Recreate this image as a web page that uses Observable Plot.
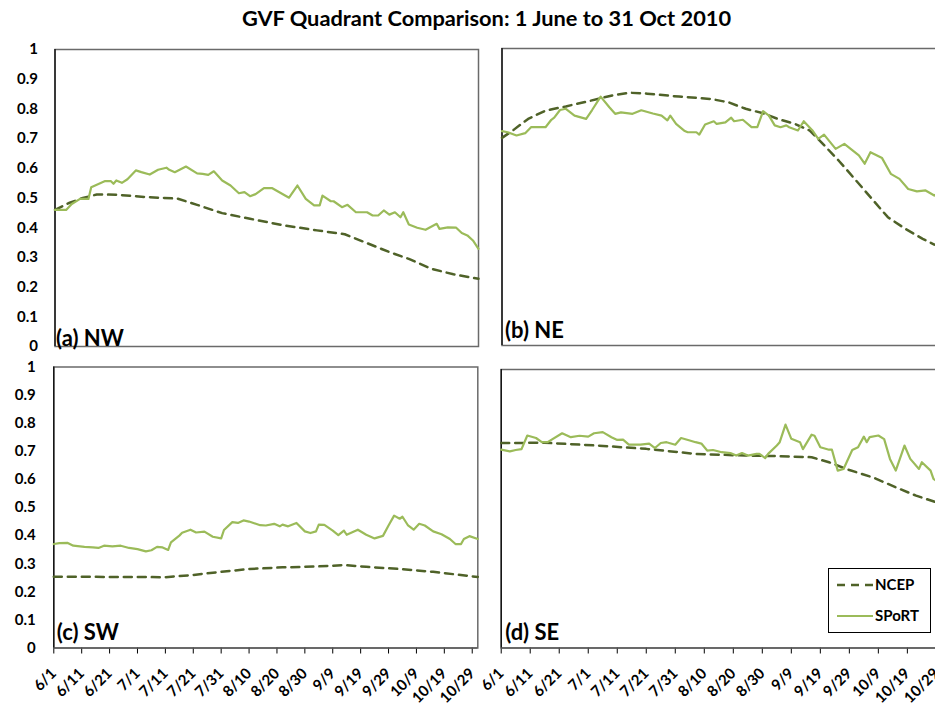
<!DOCTYPE html>
<html><head><meta charset="utf-8">
<script src="https://cdn.jsdelivr.net/npm/d3@7"></script>
<script src="https://cdn.jsdelivr.net/npm/@observablehq/plot@0.6"></script>
<style>
html,body{margin:0;padding:0;background:#fff;overflow:hidden;}
#wrap{position:relative;width:935px;height:706px;overflow:hidden;font-family:Lato,"Open Sans",sans-serif;}
.panel{position:absolute;}
#title{position:absolute;left:0;top:4px;width:973px;text-align:center;font-weight:bold;font-size:21.8px;color:#000;}
</style></head><body><div id="wrap"><div id="title">GVF Quadrant Comparison: 1 June to 31 Oct 2010</div></div>
<script>
// ---- data (day index from 1 June 2010, value = GVF fraction) ----
const xTickDays = [0,10,20,30,40,50,60,70,80,90,100,110,120,130,140,150];
const xTickLabels = ["6/1","6/11","6/21","7/1","7/11","7/21","7/31","8/10","8/20","8/30","9/9","9/19","9/29","10/9","10/19","10/29"];
const yTicks = [0,0.1,0.2,0.3,0.4,0.5,0.6,0.7,0.8,0.9,1];
const yTickLabels = ["0","0.1","0.2","0.3","0.4","0.5","0.6","0.7","0.8","0.9","1"];
const seriesNames = ["NCEP","SPoRT"];
const panelLabels = ["(a) NW","(b) NE","(c) SW","(d) SE"];

const nwSport = [[0,.460],[4,.460],[6,.480],[9,.497],[12,.497],[13,.536],[18,.557],[20,.557],[21,.548],[22,.559],[24,.551],[26,.563],[29,.593],[31,.587],[34,.579],[37,.595],[40,.602],[41,.595],[43,.587],[47,.606],[51,.583],[53,.581],[55,.578],[57,.590],[60,.559],[63,.542],[66,.516],[68,.520],[70,.506],[72,.513],[75,.533],[78,.533],[81,.517],[84,.501],[87,.542],[90,.497],[93,.475],[95,.475],[96,.508],[99,.489],[100,.489],[103,.469],[105,.477],[108,.452],[112,.452],[114,.441],[116,.441],[118,.458],[120,.444],[122,.452],[124,.435],[125,.452],[127,.411],[130,.400],[133,.393],[137,.413],[138,.396],[141,.401],[144,.400],[146,.382],[148,.374],[150,.357],[152,.329]];
const nwNcep = [[0,.460],[5,.483],[10,.500],[15,.512],[22,.511],[33,.503],[44,.498],[51,.477],[60,.449],[70,.430],[82,.408],[94,.391],[104,.378],[112,.348],[120,.318],[127,.295],[135,.262],[143,.243],[152,.228]];

const neSport = [[0,.722],[2,.718],[5,.707],[8,.715],[10,.735],[15,.735],[17,.760],[18,.767],[20,.793],[22,.797],[25,.774],[29,.763],[31,.792],[34,.838],[37,.802],[39,.780],[41,.785],[45,.780],[48,.792],[52,.781],[55,.774],[57,.758],[58,.774],[60,.746],[63,.722],[64,.718],[67,.718],[68,.710],[70,.744],[73,.755],[74,.746],[77,.751],[79,.767],[80,.755],[83,.760],[86,.735],[88,.735],[90,.789],[92,.774],[94,.741],[96,.735],[98,.741],[99,.735],[102,.724],[104,.755],[107,.724],[109,.696],[111,.710],[115,.662],[118,.679],[123,.640],[125,.612],[127,.651],[131,.631],[134,.578],[137,.561],[140,.527],[143,.519],[146,.522],[149,.505],[150,.511],[152,.510]];
const neNcep = [[0,.699],[4,.726],[9,.763],[15,.791],[22,.805],[30,.823],[38,.842],[44,.851],[50,.848],[61,.838],[72,.830],[78,.819],[84,.797],[90,.782],[95,.763],[101,.746],[106,.724],[110,.685],[116,.623],[122,.556],[128,.488],[133,.432],[139,.393],[145,.359],[149,.340],[152,.330]];

const swSport = [[0,.370],[2,.373],[5,.374],[7,.364],[11,.360],[14,.358],[16,.356],[18,.364],[21,.362],[24,.364],[27,.356],[30,.352],[33,.344],[35,.348],[37,.360],[39,.358],[41,.349],[42,.376],[45,.400],[46,.410],[49,.421],[51,.411],[54,.414],[57,.396],[60,.390],[61,.420],[64,.448],[66,.445],[68,.454],[70,.450],[74,.437],[76,.436],[79,.442],[81,.433],[82,.439],[84,.433],[87,.445],[90,.415],[92,.409],[94,.415],[95,.439],[97,.438],[100,.418],[102,.402],[104,.418],[105,.403],[109,.421],[112,.403],[115,.390],[118,.399],[120,.436],[122,.471],[124,.460],[125,.467],[127,.436],[129,.421],[131,.442],[133,.436],[136,.415],[139,.405],[142,.388],[144,.370],[146,.370],[147,.388],[149,.398],[152,.388]];
const swNcep = [[0,.254],[40,.252],[50,.260],[60,.271],[70,.281],[82,.287],[94,.290],[104,.295],[112,.289],[124,.281],[136,.271],[150,.255],[152,.253]];

const seSport = [[0,.712],[3,.706],[5,.711],[7,.714],[9,.763],[12,.754],[14,.739],[16,.739],[21,.771],[24,.757],[27,.762],[30,.759],[32,.771],[35,.775],[38,.757],[40,.747],[42,.748],[44,.730],[48,.730],[51,.734],[53,.718],[55,.736],[57,.739],[60,.730],[62,.754],[65,.745],[67,.739],[69,.734],[71,.709],[73,.711],[76,.703],[79,.700],[81,.691],[83,.700],[85,.691],[88,.697],[89,.697],[91,.682],[92,.697],[95,.727],[96,.739],[98,.802],[100,.751],[103,.739],[104,.714],[107,.766],[108,.762],[110,.721],[113,.712],[114,.712],[116,.637],[118,.643],[121,.711],[123,.721],[125,.759],[126,.739],[127,.757],[130,.763],[132,.750],[134,.679],[136,.637],[139,.727],[141,.679],[144,.643],[145,.667],[148,.637],[149,.607],[150,.600],[152,.590]];
const seNcep = [[0,.736],[15,.737],[33,.727],[50,.715],[67,.697],[84,.691],[96,.689],[107,.685],[113,.667],[120,.639],[128,.613],[136,.577],[143,.547],[150,.523],[152,.516]];

const NCEP_COLOR = "#4F6228";
const SPORT_COLOR = "#9BBB59";

const wrap = document.getElementById("wrap");

function panel(o) {
  const toRows = arr => arr.map(([d, v]) => ({d, v}));
  const marks = [
    Plot.frame({stroke: "#6a6a6a", strokeWidth: 1.5}),
    Plot.ruleX([0], {stroke: "#000", strokeWidth: 1.2}),
    Plot.line(toRows(o.ncep), {x: "d", y: "v", stroke: NCEP_COLOR, strokeWidth: 2.5, strokeDasharray: "8,6"}),
    Plot.line(toRows(o.sport), {x: "d", y: "v", stroke: SPORT_COLOR, strokeWidth: 2.2}),
    Plot.text([o.label], {frameAnchor: "bottom-left", textAnchor: "start", lineAnchor: "bottom", dx: o.ldx, dy: o.ldy, fontSize: 22, fontWeight: "bold", fill: "#000"})
  ];
  if (o.showX) marks.splice(2, 0, Plot.ruleY([0], {stroke: "#444", strokeWidth: 1.2}));
  const chart = Plot.plot({
    width: o.width, height: o.height,
    marginLeft: o.mL, marginRight: o.mR, marginTop: o.mT, marginBottom: o.mB,
    style: {fontFamily: "Lato, 'Open Sans', sans-serif", fontSize: "15px", fontWeight: "bold", color: "#000", background: "transparent", overflow: "visible"},
    x: o.showX
      ? {domain: [0, 152], ticks: xTickDays, tickFormat: d => xTickLabels[xTickDays.indexOf(d)], tickRotate: -45, tickSize: 6, tickPadding: 17, label: null}
      : {domain: [0, 152], axis: null},
    y: o.showY
      ? {domain: [0, 1], ticks: yTicks, tickFormat: d => yTickLabels[yTicks.indexOf(d)], tickSize: 0, tickPadding: o.yPad, label: null}
      : {domain: [0, 1], axis: null},
    marks
  });
  chart.classList.add("panel");
  chart.style.left = o.left + "px";
  chart.style.top = o.top + "px";
  wrap.appendChild(chart);
}

panel({sport: nwSport, ncep: nwNcep, label: panelLabels[0], left: 0, top: 40, width: 480, height: 312, mL: 54.5, mR: 2, mT: 9, mB: 6, showY: true, showX: false, yPad: 17, ldx: 1, ldy: -1});
panel({sport: neSport, ncep: neNcep, label: panelLabels[1], left: 480, top: 40, width: 464.5, height: 312, mL: 21.5, mR: 2, mT: 8, mB: 7, showY: false, showX: false, ldx: 3, ldy: -8});
panel({sport: swSport, ncep: swNcep, label: panelLabels[2], left: 0, top: 355, width: 480, height: 351, mL: 53.3, mR: 2.7, mT: 11.5, mB: 58.5, showY: true, showX: true, yPad: 18, ldx: 3, ldy: -8});
panel({sport: seSport, ncep: seNcep, label: panelLabels[3], left: 480, top: 355, width: 463.7, height: 351, mL: 20.7, mR: 2, mT: 14, mB: 58.5, showY: false, showX: true, ldx: 4, ldy: -8});

// legend
const ns = "http://www.w3.org/2000/svg";
const lg = document.createElementNS(ns, "svg");
lg.setAttribute("width", 104); lg.setAttribute("height", 66);
lg.style.position = "absolute"; lg.style.left = "828px"; lg.style.top = "568px";
lg.innerHTML =
  `<rect x="0.5" y="0.5" width="102" height="64" fill="#fff" stroke="#000" stroke-width="1"/>` +
  `<line x1="9" x2="45" y1="17" y2="17" stroke="${NCEP_COLOR}" stroke-width="2.5" stroke-dasharray="8,6"/>` +
  `<line x1="9" x2="45" y1="48" y2="48" stroke="${SPORT_COLOR}" stroke-width="2.2"/>` +
  `<text x="47" y="17" dy="0.35em" font-family="Lato, sans-serif" font-weight="bold" font-size="15">${seriesNames[0]}</text>` +
  `<text x="47" y="48" dy="0.35em" font-family="Lato, sans-serif" font-weight="bold" font-size="15">${seriesNames[1]}</text>`;
wrap.appendChild(lg);
</script></body></html>
